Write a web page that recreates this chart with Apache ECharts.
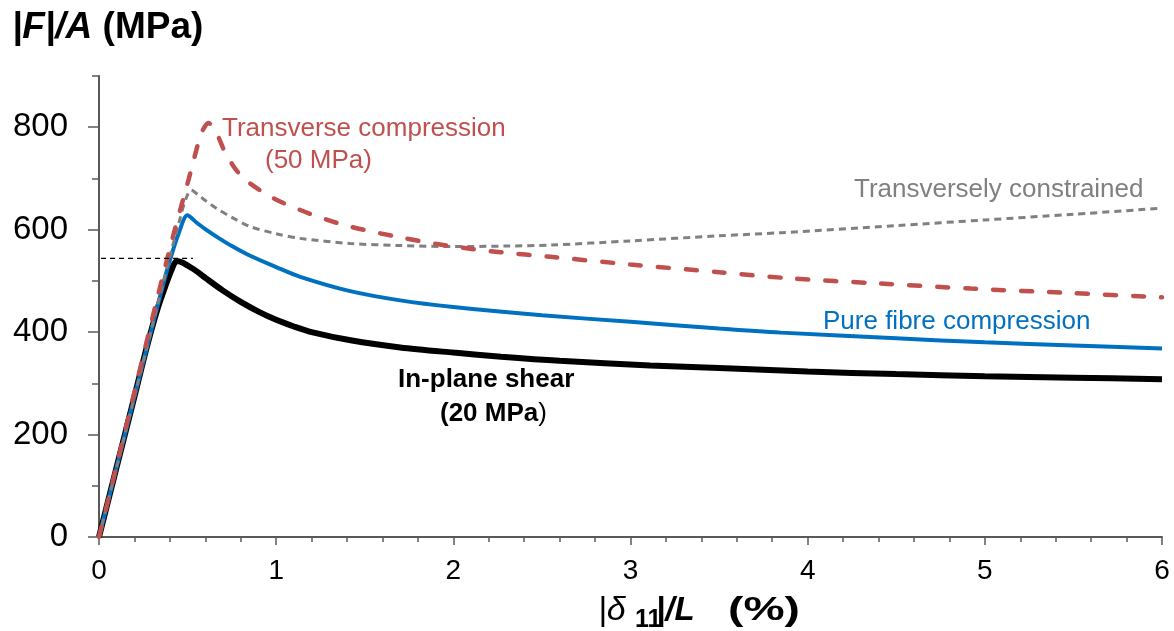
<!DOCTYPE html>
<html>
<head>
<meta charset="utf-8">
<script src="https://cdn.jsdelivr.net/npm/echarts@6.0.0/dist/echarts.min.js"></script>
<style>
	html, body { margin: 0; padding: 0; background: #fff; }
	#main { width: 1174px; height: 631px; }
</style>
</head>
<body>
<div id="main"></div>
<script>
// 轴刻度
var xTicks = [0, 1, 2, 3, 4, 5, 6];
var yTicks = [0, 200, 400, 600, 800];

// In-plane shear (20 MPa)
var shearX = [0, 0.1, 0.2, 0.27, 0.33, 0.38, 0.41, 0.439, 0.47, 0.5, 0.55, 0.6, 0.7, 0.8, 0.9, 1.0, 1.1, 1.2, 1.42, 1.7, 2.0, 2.27, 2.6, 3.11, 3.5, 4.0, 4.5, 5.0, 5.5, 6.0];
var shearY = [0, 137, 274, 371, 445, 495, 522, 539, 536, 530, 519, 506, 481, 459, 440, 424, 411, 400, 384, 370, 360, 352, 344, 335, 330, 323, 318, 314, 311, 308];

// Pure fibre compression
var pureX = [0, 0.1, 0.2, 0.3, 0.36, 0.4, 0.45, 0.499, 0.55, 0.6, 0.665, 0.75, 0.853, 1.0, 1.136, 1.418, 1.7, 2.0, 2.5, 3.0, 3.5, 3.85, 4.5, 5.0, 5.5, 6.0];
var pureY = [0, 137, 274, 410, 490, 540, 593, 628, 614, 601, 586, 568, 549, 527, 508, 480, 462, 449, 433, 420, 407, 399, 388, 380, 374, 368];

// Transversely constrained
var constrX = [0, 0.1, 0.2, 0.3, 0.4, 0.45, 0.49, 0.52, 0.56, 0.6, 0.665, 0.75, 0.853, 1.0, 1.136, 1.418, 1.7, 1.983, 2.3, 2.548, 3.0, 3.5, 3.85, 4.5, 5.0, 5.5, 6.0];
var constrY = [0, 137, 274, 411, 548, 612, 660, 677, 668, 657, 641, 624, 606, 592, 583, 573, 569, 567, 568, 570, 578, 588, 594, 608, 619, 630, 642];

// Transverse compression (50 MPa)
var transX = [0, 0.1, 0.2, 0.326, 0.42, 0.505, 0.571, 0.595, 0.618, 0.645, 0.675, 0.71, 0.757, 0.8, 0.853, 0.95, 1.041, 1.23, 1.418, 1.7, 1.983, 2.266, 2.548, 3.0, 3.5, 3.9, 4.4, 4.92, 5.5, 6.0];
var transY = [0, 140, 283, 462, 590, 697, 782, 800, 808, 800, 780, 752, 725, 706, 690, 668, 652, 626, 606, 585, 568, 556, 547, 532, 517, 505, 495, 485, 476, 468];

// 虚线参考线
var refX = [-0.09, 0.53];
var refY = [544, 544];

function pairs(xs, ys) {
	var out = [];
	for (var i = 0; i < xs.length; i++) {
		out.push([xs[i], ys[i]]);
	}
	return out;
}

var FONT = '"Liberation Sans", Arial, sans-serif';
var axisColor = '#595959';

var myChart = echarts.init(document.getElementById('main'), null, { renderer: 'canvas' });

option = {
	animation: false,
	backgroundColor: '#fff',
	grid: { left: 99, right: 12, top: 76, bottom: 94, containLabel: false },
	xAxis: {
		type: 'value',
		min: 0,
		max: 6,
		interval: 1,
		axisLine: { lineStyle: { color: axisColor, width: 2 } },
		axisTick: { length: 8, customValues: xTicks, lineStyle: { color: axisColor, width: 1.5 } },
		minorTick: { show: true, splitNumber: 5, length: 5, lineStyle: { color: axisColor, width: 1.5 } },
		axisLabel: { customValues: xTicks, fontSize: 28, color: '#000', fontFamily: FONT, margin: 20 },
		splitLine: { show: false }
	},
	yAxis: [
		{
			type: 'value',
			position: 'left',
			min: 0,
			max: 900,
			interval: 100,
			axisLine: { show: true, lineStyle: { color: axisColor, width: 2 } },
			axisTick: { show: true, length: 7, lineStyle: { color: axisColor, width: 1.5 } },
			axisLabel: { show: false },
			splitLine: { show: false }
		},
		{
			type: 'value',
			position: 'left',
			min: 0,
			max: 900,
			interval: 100,
			axisLine: { show: false },
			axisTick: { show: true, length: 11, customValues: yTicks, lineStyle: { color: axisColor, width: 1.5 } },
			axisLabel: { customValues: yTicks, fontSize: 33, color: '#000', fontFamily: FONT, margin: 31 },
			splitLine: { show: false }
		}
	],
	series: [
		{
			name: 'In-plane shear',
			type: 'line',
			data: pairs(shearX, shearY),
			showSymbol: false,
			smooth: 0.3,
			lineStyle: { color: '#000', width: 6 }
		},
		{
			name: 'Pure fibre compression',
			type: 'line',
			data: pairs(pureX, pureY),
			showSymbol: false,
			smooth: 0.3,
			lineStyle: { color: '#0070C0', width: 4 }
		},
		{
			name: 'Transversely constrained',
			type: 'line',
			data: pairs(constrX, constrY),
			showSymbol: false,
			smooth: 0.3,
			lineStyle: { color: '#808080', width: 3, type: [7, 5] }
		},
		{
			name: 'Transverse compression',
			type: 'line',
			data: pairs(transX, transY),
			showSymbol: false,
			smooth: 0.3,
			lineStyle: { color: '#C0504D', width: 4.5, type: [11, 17], cap: 'round' }
		},
		{
			type: 'line',
			data: pairs(refX, refY),
			showSymbol: false,
			clip: false,
			lineStyle: { color: '#000', width: 1.3, type: [5, 4] }
		}
	],
	graphic: [
		// 纵轴标题
		{
			type: 'text', x: 12, y: 28,
			style: {
				text: '{i||F|/A}{b| (MPa)}',
				verticalAlign: 'middle', textVerticalAlign: 'middle',
				rich: {
					i: { fontStyle: 'italic', fontWeight: 'bold', fontSize: 37, fontFamily: FONT, fill: '#000' },
					b: { fontWeight: 'bold', fontSize: 37, fontFamily: FONT, fill: '#000' }
				}
			}
		},
		// 横轴标题
		{ type: 'text', x: 598, y: 611, style: { text: '|\u03b4', font: 'italic 34px ' + FONT, fill: '#000', verticalAlign: 'middle', textVerticalAlign: 'middle' } },
		{ type: 'text', x: 635, y: 620, style: { text: '11', font: 'bold 25px ' + FONT, fill: '#000', verticalAlign: 'middle', textVerticalAlign: 'middle' } },
		{ type: 'text', x: 656, y: 611, style: { text: '|/L', font: 'italic bold 33px ' + FONT, fill: '#000', verticalAlign: 'middle', textVerticalAlign: 'middle' } },
		{ type: 'text', x: 728, y: 611, scaleX: 1.4, style: { text: '(%)', font: 'bold 33px ' + FONT, fill: '#000', verticalAlign: 'middle', textVerticalAlign: 'middle' } },
		// 曲线标注
		{ type: 'text', x: 222, y: 129, style: { text: 'Transverse compression', font: '26px ' + FONT, fill: '#C0504D', verticalAlign: 'middle', textVerticalAlign: 'middle' } },
		{ type: 'text', x: 265, y: 161, style: { text: '(50 MPa)', font: '26px ' + FONT, fill: '#C0504D', verticalAlign: 'middle', textVerticalAlign: 'middle' } },
		{ type: 'text', x: 854, y: 190, style: { text: 'Transversely constrained', font: '26px ' + FONT, fill: '#808080', verticalAlign: 'middle', textVerticalAlign: 'middle' } },
		{ type: 'text', x: 823, y: 322, style: { text: 'Pure fibre compression', font: '26px ' + FONT, fill: '#0070C0', verticalAlign: 'middle', textVerticalAlign: 'middle' } },
		{ type: 'text', x: 398, y: 380, style: { text: 'In-plane shear', font: 'bold 26px ' + FONT, fill: '#000', verticalAlign: 'middle', textVerticalAlign: 'middle' } },
		{
			type: 'text', x: 440, y: 414,
			style: {
				text: '{b|(20 MPa}{n|)}',
				verticalAlign: 'middle', textVerticalAlign: 'middle',
				rich: {
					b: { fontWeight: 'bold', fontSize: 26, fontFamily: FONT, fill: '#000' },
					n: { fontSize: 26, fontFamily: FONT, fill: '#000' }
				}
			}
		}
	]
};

myChart.setOption(option);
</script>
</body>
</html>
